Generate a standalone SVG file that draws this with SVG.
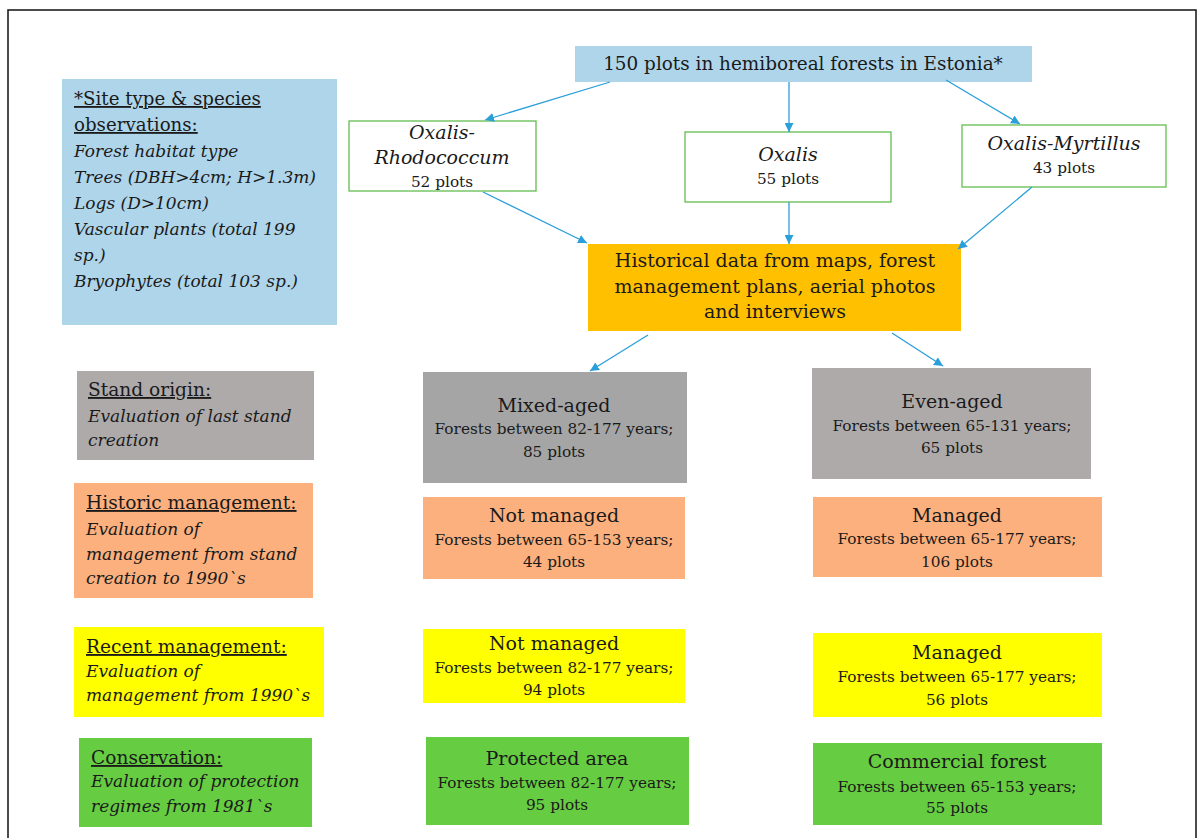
<svg xmlns="http://www.w3.org/2000/svg" width="1204" height="838" viewBox="0 0 1204 838">
<style>
text{font-family:"DejaVu Serif","Liberation Serif",serif;fill:#1a1a1a}
.m{font-size:19px;text-anchor:middle}
.t{font-size:18.4px;text-anchor:middle}
.s{font-size:15.3px;text-anchor:middle}
.l{font-size:17px}
.h{font-size:18.6px;text-decoration:underline}
.i{font-style:italic}
.c{stroke:#2a9fda;stroke-width:1.3;fill:none;marker-end:url(#ah)}
.gb{fill:#fff;stroke:#62bd4f;stroke-width:1.3}
</style>
<defs>
<marker id="ah" viewBox="0 0 10 10" refX="10" refY="5" markerWidth="9" markerHeight="9" markerUnits="userSpaceOnUse" orient="auto">
<path d="M0,0 L10,5 L0,10 z" fill="#2a9fda"/>
</marker>
</defs>
<rect x="0" y="0" width="1204" height="838" fill="#fff"/>
<rect x="8" y="10" width="1188" height="840" fill="none" stroke="#111" stroke-width="1.5"/>

<g id="legend-site">
<rect x="62" y="79" width="275" height="246" fill="#afd5ea"/>
<text class="h" x="74" y="105" style="font-size:18.2px">*Site type &amp; species</text>
<text class="h" x="74" y="131" style="font-size:18.2px">observations:</text>
<text class="l i" x="74" y="157">Forest habitat type</text>
<text class="l i" x="74" y="183">Trees (DBH&gt;4cm; H&gt;1.3m)</text>
<text class="l i" x="74" y="209">Logs (D&gt;10cm)</text>
<text class="l i" x="74" y="235">Vascular plants (total 199</text>
<text class="l i" x="74" y="261">sp.)</text>
<text class="l i" x="74" y="287">Bryophytes (total 103 sp.)</text>
</g>

<g id="top">
<rect x="575" y="46" width="457" height="36" fill="#afd5ea"/>
<text class="t" x="803" y="70">150 plots in hemiboreal forests in Estonia*</text>
</g>

<g id="oxalis-rhodococcum">
<rect class="gb" x="349" y="121" width="187" height="70"/>
<text class="m i" x="442" y="139">Oxalis-</text>
<text class="m i" x="442" y="164">Rhodococcum</text>
<text class="s" x="442" y="187">52 plots</text>
</g>

<g id="oxalis">
<rect class="gb" x="685" y="132" width="206" height="70"/>
<text class="m i" x="788" y="161">Oxalis</text>
<text class="s" x="788" y="184">55 plots</text>
</g>

<g id="oxalis-myrtillus">
<rect class="gb" x="962" y="125" width="204" height="62"/>
<text class="m i" x="1064" y="150">Oxalis-Myrtillus</text>
<text class="s" x="1064" y="173">43 plots</text>
</g>

<g id="historical">
<rect x="588" y="244" width="373" height="87" fill="#ffc000"/>
<text class="m" x="775" y="267">Historical data from maps, forest</text>
<text class="m" x="775" y="293">management plans, aerial photos</text>
<text class="m" x="775" y="318">and interviews</text>
</g>

<g id="legend-origin">
<rect x="77" y="371" width="237" height="89" fill="#aeaaaa"/>
<text class="h" x="88" y="396">Stand origin:</text>
<text class="l i" x="88" y="422">Evaluation of last stand</text>
<text class="l i" x="88" y="446">creation</text>
</g>

<g id="legend-historic">
<rect x="74" y="483" width="239" height="115" fill="#fcb07e"/>
<text class="h" x="86" y="509">Historic management:</text>
<text class="l i" x="86" y="535">Evaluation of</text>
<text class="l i" x="86" y="560">management from stand</text>
<text class="l i" x="86" y="584">creation to 1990`s</text>
</g>

<g id="legend-recent">
<rect x="74" y="627" width="250" height="90" fill="#ffff00"/>
<text class="h" x="86" y="653">Recent management:</text>
<text class="l i" x="86" y="677">Evaluation of</text>
<text class="l i" x="86" y="701">management from 1990`s</text>
</g>

<g id="legend-conservation">
<rect x="79" y="738" width="233" height="89" fill="#66cc42"/>
<text class="h" x="91" y="764">Conservation:</text>
<text class="l i" x="91" y="787">Evaluation of protection</text>
<text class="l i" x="91" y="812">regimes from 1981`s</text>
</g>

<g id="mixed-aged">
<rect x="423" y="372" width="264" height="111" fill="#a5a5a5"/>
<text class="m" x="554" y="412">Mixed-aged</text>
<text class="s" x="554" y="434">Forests between 82-177 years;</text>
<text class="s" x="554" y="457">85 plots</text>
</g>

<g id="even-aged">
<rect x="812" y="368" width="279" height="111" fill="#aeaaaa"/>
<text class="m" x="952" y="408">Even-aged</text>
<text class="s" x="952" y="431">Forests between 65-131 years;</text>
<text class="s" x="952" y="453">65 plots</text>
</g>

<g id="hist-not-managed">
<rect x="423" y="497" width="262" height="82" fill="#fcb07e"/>
<text class="m" x="554" y="522">Not managed</text>
<text class="s" x="554" y="545">Forests between 65-153 years;</text>
<text class="s" x="554" y="567">44 plots</text>
</g>

<g id="hist-managed">
<rect x="813" y="497" width="289" height="80" fill="#fcb07e"/>
<text class="m" x="957" y="522">Managed</text>
<text class="s" x="957" y="544">Forests between 65-177 years;</text>
<text class="s" x="957" y="567">106 plots</text>
</g>

<g id="recent-not-managed">
<rect x="423" y="629" width="262" height="74" fill="#ffff00"/>
<text class="m" x="554" y="650">Not managed</text>
<text class="s" x="554" y="673">Forests between 82-177 years;</text>
<text class="s" x="554" y="695">94 plots</text>
</g>

<g id="recent-managed">
<rect x="813" y="633" width="289" height="84" fill="#ffff00"/>
<text class="m" x="957" y="659">Managed</text>
<text class="s" x="957" y="682">Forests between 65-177 years;</text>
<text class="s" x="957" y="705">56 plots</text>
</g>

<g id="protected">
<rect x="426" y="737" width="263" height="88" fill="#66cc42"/>
<text class="m" x="557" y="765">Protected area</text>
<text class="s" x="557" y="788">Forests between 82-177 years;</text>
<text class="s" x="557" y="810">95 plots</text>
</g>

<g id="commercial">
<rect x="813" y="743" width="289" height="82" fill="#66cc42"/>
<text class="m" x="957" y="768">Commercial forest</text>
<text class="s" x="957" y="792">Forests between 65-153 years;</text>
<text class="s" x="957" y="813">55 plots</text>
</g>

<g id="connectors">
<line class="c" x1="610" y1="82" x2="485" y2="120"/>
<line class="c" x1="789" y1="82" x2="789" y2="132"/>
<line class="c" x1="946" y1="80" x2="1020" y2="124"/>
<line class="c" x1="483" y1="192" x2="587" y2="243"/>
<line class="c" x1="789" y1="202" x2="789" y2="244"/>
<line class="c" x1="1032" y1="187" x2="958" y2="249"/>
<line class="c" x1="648" y1="335" x2="590" y2="371"/>
<line class="c" x1="892" y1="333" x2="943" y2="366"/>
</g>
</svg>
